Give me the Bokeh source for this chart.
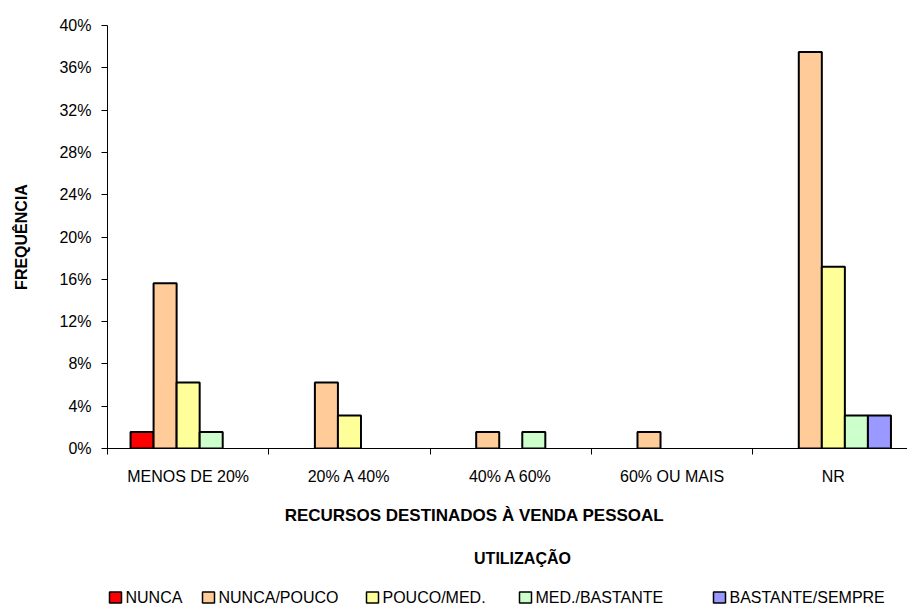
from bokeh.plotting import figure
from bokeh.models import Range1d, FixedTicker, PrintfTickFormatter, ColumnDataSource
from bokeh.layouts import column
from bokeh.embed import file_html
from bokeh.resources import INLINE
from bokeh.core.properties import value

# Categories on the x axis and the five usage levels (series)
categories = ["MENOS DE 20%", "20% A 40%", "40% A 60%", "60% OU MAIS", "NR"]
series = ["NUNCA", "NUNCA/POUCO", "POUCO/MED.", "MED./BASTANTE", "BASTANTE/SEMPRE"]
colors = ["#FF0000", "#FFCC99", "#FFFF99", "#CCFFCC", "#9999FF"]

# Frequencies in percent, one list per series, ordered as the categories
nunca = [1.5625, 0, 0, 0, 0]
nunca_pouco = [15.625, 6.25, 1.5625, 1.5625, 37.5]
pouco_med = [6.25, 3.125, 0, 0, 17.1875]
med_bastante = [1.5625, 0, 1.5625, 0, 3.125]
bastante_sempre = [0, 0, 0, 0, 3.125]
values = [nunca, nunca_pouco, pouco_med, med_bastante, bastante_sempre]

y_ticks = list(range(0, 41, 4))

x_title = "RECURSOS DESTINADOS À VENDA PESSOAL"
y_title = "FREQUÊNCIA"
legend_title = "UTILIZAÇÃO"

FONT = "Liberation Sans"

# Each category holds 5 bar slots plus one empty slot of gap on each side
n_slots = len(series) + 2
xs, tops, fills = [], [], []
for k, (vals, c) in enumerate(zip(values, colors)):
    for i, v in enumerate(vals):
        if v > 0:
            xs.append(i + (k + 1.5) / n_slots)
            tops.append(v)
            fills.append(c)
src = ColumnDataSource(dict(x=xs, top=tops, color=fills))

W = 907
LEFT = 107
PLOT_H = 490
cat_px = 161.3
p = figure(width=W, height=PLOT_H,
           x_range=Range1d(0, (W - LEFT) / cat_px), y_range=Range1d(0, 40),
           output_backend="svg", toolbar_location=None,
           min_border_left=LEFT, min_border_right=0,
           min_border_top=25, min_border_bottom=42)
p.vbar(x="x", top="top", width=1 / n_slots, fill_color="color",
       line_color="black", line_width=2, source=src)

p.xgrid.visible = False
p.ygrid.visible = False
p.outline_line_color = None
p.background_fill_color = "white"
p.border_fill_color = "white"

# y axis: percentages
yax = p.yaxis[0]
yax.ticker = FixedTicker(ticks=y_ticks)
yax.formatter = PrintfTickFormatter(format="%d%%")
yax.major_tick_out = 6
yax.major_tick_in = 0
yax.minor_tick_out = 0
yax.minor_tick_in = 0
yax.axis_line_color = "black"
yax.major_tick_line_color = "black"
yax.major_label_text_font = FONT
yax.major_label_text_font_size = "16px"
yax.major_label_text_color = "black"
yax.major_label_standoff = 10
yax.axis_label = y_title
yax.axis_label_text_font = FONT
yax.axis_label_text_font_style = "bold"
yax.axis_label_text_font_size = "16px"
yax.axis_label_text_color = "black"
yax.axis_label_standoff = 26

# x axis: category names centred, tick marks at category boundaries
xax = p.xaxis[0]
centers = [i + 0.5 for i in range(len(categories))]
xax.ticker = FixedTicker(ticks=centers, minor_ticks=list(range(len(categories) + 1)))
xax.major_label_overrides = {c: name for c, name in zip(centers, categories)}
xax.major_tick_out = 0
xax.major_tick_in = 0
xax.minor_tick_out = 6
xax.minor_tick_in = 0
xax.minor_tick_line_color = "black"
xax.axis_line_color = "black"
xax.major_label_text_font = FONT
xax.major_label_text_font_size = "16px"
xax.major_label_text_color = "black"
xax.major_label_standoff = 13

# Lower panel: x-axis title, legend title and legend entries.
# Its frame lines up with the plot frame above, so data x equals page x
# and data y equals page y (range flipped).
q = figure(width=W, height=608 - PLOT_H,
           x_range=Range1d(LEFT, W), y_range=Range1d(608, PLOT_H),
           output_backend="svg", toolbar_location=None,
           x_axis_location=None, y_axis_location=None, min_border=0)
q.xgrid.visible = False
q.ygrid.visible = False
q.outline_line_color = None

q.text(x=[474], y=[515], text=[x_title], text_font=value(FONT), text_font_style="bold",
       text_font_size="17px", text_align="center", text_baseline="middle", text_color="black")
q.text(x=[522], y=[558], text=[legend_title], text_font=value(FONT), text_font_style="bold",
       text_font_size="16px", text_align="center", text_baseline="middle", text_color="black")

legend_left = [109, 202, 366, 519, 713]
leg_y = 597
q.rect(x=[l + 6 for l in legend_left], y=[leg_y] * len(series), width=12, height=11,
       fill_color=colors, line_color="black", line_width=1.5)
q.text(x=[l + 16 for l in legend_left], y=[leg_y] * len(series), text=series,
       text_font=value(FONT), text_font_size="16px", text_align="left",
       text_baseline="middle", text_color="black")

layout = column(p, q, spacing=0)
open("out.html", "w").write(file_html(layout, INLINE))
